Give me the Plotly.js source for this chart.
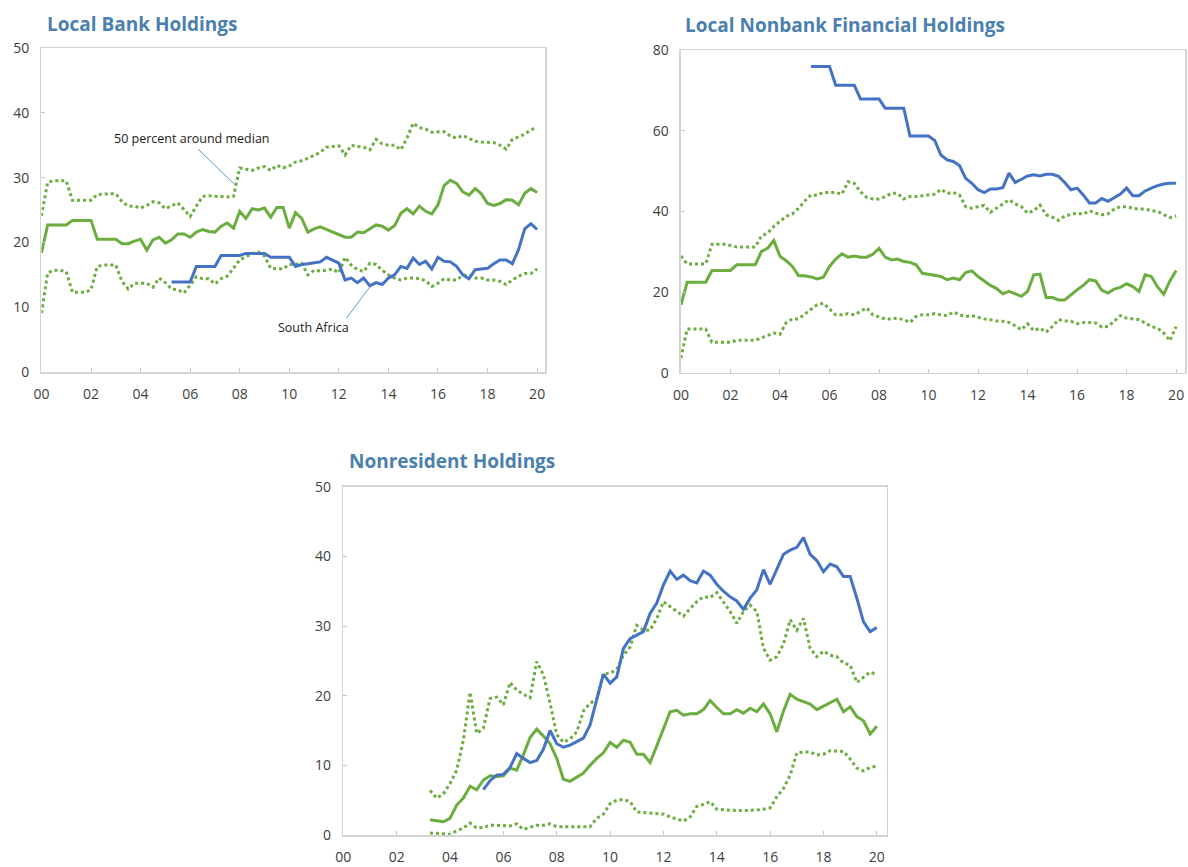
<!DOCTYPE html>
<html><head><meta charset="utf-8">
<script src="https://cdn.plot.ly/plotly-3.0.1.min.js"></script>
<style>html,body{margin:0;padding:0;background:#fff}#chart{width:1188px;height:867px}</style>
</head><body><div id="chart"></div>
<script>
// ---------- DATA (quarterly, years since 2000) ----------
const yearTicks = [0,2,4,6,8,10,12,14,16,18,20];
const yearLabels = ['00','02','04','06','08','10','12','14','16','18','20'];

// Panel 1: Local Bank Holdings (start 2000Q1)
const bank_start = 0;
const bank_median = [
 18.4,22.7,22.7,22.7, 22.7,23.4,23.4,23.4, 23.4,20.5,20.5,20.5, 20.5,19.8,19.8,20.2,
 20.5,18.8,20.4,20.8, 19.9,20.4,21.3,21.3, 20.8,21.6,22.0,21.7, 21.6,22.5,23.0,22.2,
 24.8,23.7,25.2,25.0, 25.3,23.9,25.4,25.4, 22.2,24.6,23.7,21.6, 22.1,22.4,22.0,21.6,
 21.1,20.8,20.8,21.6, 21.5,22.1,22.7,22.5, 21.9,22.6,24.5,25.2, 24.4,25.6,24.8,24.4,
 25.8,28.8,29.6,29.1, 27.8,27.3,28.3,27.5, 26.0,25.7,26.0,26.6, 26.5,25.8,27.6,28.3, 27.7];
const bank_upper = [
 24.1,29.3,29.5,29.5, 29.5,26.5,26.5,26.5, 26.5,27.4,27.5,27.5, 27.5,26.3,25.6,25.6,
 25.3,25.7,26.3,26.1, 25.2,25.6,26.1,25.1, 24.0,25.6,27.1,27.2, 27.1,27.1,27.0,27.1,
 31.5,31.3,31.1,31.5, 31.7,31.1,31.9,31.5, 31.8,32.4,32.6,33.0, 33.4,33.9,34.7,34.8,
 34.9,33.5,35.0,34.8, 34.7,34.3,35.9,35.2, 35.0,35.0,34.3,36.1, 38.4,37.7,37.5,37.0,
 37.1,37.1,36.4,36.1, 36.5,36.1,35.6,35.5, 35.5,35.4,35.0,34.4, 35.9,36.3,36.7,37.4, 37.7];
const bank_lower = [
 9.1,15.3,15.7,15.7, 15.5,12.3,12.3,12.3, 12.7,16.3,16.5,16.5, 16.5,14.0,12.8,13.7,
 13.7,13.7,13.1,14.5, 13.8,12.8,12.7,12.2, 13.4,14.7,14.4,14.4, 13.6,14.4,14.8,16.0,
 17.3,17.8,18.3,18.5, 17.9,16.0,16.0,15.9, 16.6,16.6,16.8,15.0, 15.7,15.6,15.7,15.9,
 15.3,17.7,16.5,15.8, 15.5,16.8,16.6,15.7, 15.0,14.5,14.2,14.5, 14.5,14.4,14.1,13.2,
 13.7,14.4,14.2,14.2, 14.9,15.0,14.5,14.5, 14.2,14.2,14.0,13.5, 14.2,14.8,15.2,15.2, 15.9];
const bank_sa_start = 5.25;
const bank_sa = [
 13.9,13.9,13.9, 13.9,16.3,16.3,16.3, 16.3,18.0,18.0,18.0, 18.0,18.3,18.3,18.3,
 18.3,17.7,17.7,17.7, 17.7,16.3,16.6,16.7, 16.8,17.0,17.7,17.3, 16.8,14.2,14.5,13.8,
 14.5,13.3,13.8,13.5, 14.5,15.0,16.3,16.0, 17.6,16.6,17.1,15.9, 17.7,17.1,17.0,16.3,
 15.0,14.4,15.8,15.9, 16.0,16.7,17.3,17.3, 16.7,18.9,22.1,22.9, 22.0];

// Panel 2: Local Nonbank Financial Holdings (start 2000Q1)
const nbfi_start = 0;
const nbfi_median = [
 16.9,22.5,22.5,22.5, 22.5,25.4,25.4,25.4, 25.4,26.8,26.8,26.8, 26.8,30.1,30.9,32.8,
 28.9,27.8,26.4,24.1, 24.1,23.8,23.3,23.7, 26.4,28.2,29.5,28.7, 29.0,28.7,28.7,29.4,
 30.9,28.7,28.0,28.2, 27.6,27.4,26.8,24.7, 24.5,24.2,23.9,23.1, 23.5,23.1,24.9,25.3,
 23.9,22.8,21.7,20.9, 19.6,20.2,19.6,19.0, 20.2,24.3,24.5,18.7, 18.7,18.1,18.1,19.4,
 20.6,21.7,23.1,22.8, 20.5,19.8,20.8,21.2, 22.1,21.4,20.2,24.3, 23.9,21.3,19.5,22.8, 25.4];
const nbfi_upper = [
 29.0,27.0,27.0,27.0, 27.0,31.9,31.9,31.9, 31.6,31.2,31.2,31.2, 31.2,34.0,34.6,36.3,
 37.5,38.8,39.4,40.8, 42.6,44.1,44.0,44.7, 44.7,44.7,44.3,47.4, 47.0,44.9,43.5,43.1,
 43.1,43.7,44.5,44.5, 43.1,43.7,43.7,43.9, 44.1,44.3,45.5,44.5, 44.7,44.1,41.2,40.8,
 41.2,41.5,39.8,40.8, 41.9,42.9,41.9,41.2, 39.6,40.2,41.6,39.2, 38.6,37.8,38.9,39.3,
 39.6,39.3,40.2,39.6, 39.2,39.4,40.6,41.2, 41.2,40.8,40.6,40.6, 40.2,40.0,39.2,38.5, 38.9];
const nbfi_lower = [
 3.7,10.9,10.9,10.9, 10.9,7.6,7.6,7.6, 7.6,8.1,8.1,8.1, 8.1,8.7,9.3,9.9,
 9.6,12.5,13.4,13.4, 14.6,15.8,16.9,17.3, 15.8,14.4,14.4,14.7, 14.4,15.3,16.1,14.4,
 13.9,13.4,13.4,13.6, 13.2,12.5,14.0,14.4, 14.4,14.7,14.4,14.2, 15.1,14.4,14.0,14.2,
 13.8,13.4,13.2,12.9, 12.8,12.5,11.7,10.7, 12.2,10.5,11.1,10.1, 11.5,13.2,12.9,12.8,
 12.2,12.5,12.5,12.4, 11.4,11.5,12.8,14.2, 13.6,13.4,13.2,12.4, 11.5,11.1,9.9,8.0, 11.5];
const nbfi_sa_start = 5.25;
const nbfi_sa = [
 75.9,75.9,75.9, 75.9,71.3,71.3,71.3, 71.3,67.9,67.9,67.9, 67.9,65.6,65.6,65.6,
 65.6,58.7,58.7,58.7, 58.7,57.6,54.0,52.8, 52.4,51.4,48.2,47.0, 45.4,44.7,45.6,45.6,
 45.9,49.5,47.2,48.0, 48.8,49.1,48.8,49.2, 49.2,48.7,47.2,45.4, 45.8,44.1,42.1,42.1,
 43.2,42.5,43.5,44.3, 45.8,43.9,43.9,45.1, 45.8,46.4,46.8,47.0, 47.0];

// Panel 3: Nonresident Holdings (start 2003Q2)
const nonres_start = 3.25;
const nonres_median = [
 2.2,2.1,1.9, 2.4,4.3,5.3,7.0, 6.5,7.9,8.5,8.4, 8.5,9.6,9.3,11.5,
 14.0,15.2,14.2,13.1, 11.0,8.0,7.7,8.3, 8.9,10.0,11.0,11.8, 13.3,12.6,13.6,13.3,
 11.6,11.6,10.4,12.8, 15.2,17.7,17.9,17.2, 17.4,17.4,18.0,19.3, 18.3,17.4,17.4,18.0,
 17.5,18.2,17.7,18.8, 17.4,14.8,17.8,20.2, 19.5,19.1,18.8,18.0, 18.5,18.9,19.5,17.7,
 18.4,17.0,16.4,14.5, 15.6];
const nonres_upper = [
 6.4,5.3,5.9, 7.4,9.3,13.6,20.5, 14.6,15.3,19.6,19.8, 18.7,21.9,20.8,20.2,
 19.7,24.9,23.0,18.9, 14.4,13.3,13.8,14.8, 17.8,18.9,19.5,23.2, 23.2,23.8,25.8,27.0,
 30.1,29.4,29.4,31.1, 33.5,32.8,32.1,31.4, 32.5,33.5,34.2,34.1, 34.8,33.5,32.1,30.4,
 32.1,33.0,32.1,26.8, 25.1,25.6,27.4,30.9, 29.4,31.1,26.8,25.6, 26.4,25.8,25.6,24.7,
 24.4,21.9,22.6,23.4, 23.0];
const nonres_lower = [
 0.3,0.2,0.1, 0.1,0.6,1.0,1.7, 1.0,1.1,1.4,1.4, 1.3,1.3,1.6,0.8,
 1.1,1.4,1.4,1.6, 1.2,1.2,1.1,1.1, 1.1,1.2,2.4,3.0, 4.5,5.0,5.1,4.8,
 3.3,3.2,3.1,3.1, 3.0,2.6,2.3,2.0, 2.6,4.1,4.4,4.8, 3.7,3.6,3.5,3.5,
 3.5,3.5,3.6,3.7, 3.9,5.5,6.7,8.6, 11.8,11.9,11.9,11.5, 11.6,12.1,12.1,12.0,
 10.9,9.6,9.2,9.7, 9.9];
const nonres_sa_start = 5.25;
const nonres_sa = [
 6.5,7.8,8.6, 8.7,9.7,11.7,11.0, 10.4,10.7,12.3,15.0, 13.1,12.6,12.9,13.4,
 13.9,15.8,19.5,23.1, 21.8,22.7,26.8,28.2, 28.7,29.2,31.8,33.3, 35.9,37.9,36.7,37.3,
 36.5,36.2,37.9,37.3, 36.0,35.0,34.2,33.6, 32.4,34.0,35.2,38.1, 36.0,38.1,40.3,40.9,
 41.3,42.7,40.3,39.4, 37.8,38.9,38.5,37.1, 37.1,34.0,30.6,29.2, 29.8];

const titles = ['Local Bank Holdings', 'Local Nonbank Financial Holdings', 'Nonresident Holdings'];
const noteBand = '50 percent around median';
const noteSA = 'South Africa';

// ---------- STYLE ----------
const GREEN = '#6BAE3F';
const BLUE = '#4472C4';
const FONT = '"Open Sans", "Noto Sans", sans-serif';

function qx(start, n) { const a = []; for (let i = 0; i < n; i++) a.push(start + i * 0.25); return a; }
function line(start, vals, color, dash, xa, ya) {
  return { x: qx(start, vals.length), y: vals, type: 'scatter', mode: 'lines', xaxis: xa, yaxis: ya,
    line: { color: color, width: 3, dash: dash }, hoverinfo: 'skip', showlegend: false };
}

const traces = [
  line(bank_start, bank_upper, GREEN, 'dot', 'x', 'y'),
  line(bank_start, bank_lower, GREEN, 'dot', 'x', 'y'),
  line(bank_start, bank_median, GREEN, 'solid', 'x', 'y'),
  line(bank_sa_start, bank_sa, BLUE, 'solid', 'x', 'y'),
  line(nbfi_start, nbfi_upper, GREEN, 'dot', 'x2', 'y2'),
  line(nbfi_start, nbfi_lower, GREEN, 'dot', 'x2', 'y2'),
  line(nbfi_start, nbfi_median, GREEN, 'solid', 'x2', 'y2'),
  line(nbfi_sa_start, nbfi_sa, BLUE, 'solid', 'x2', 'y2'),
  line(nonres_start, nonres_upper, GREEN, 'dot', 'x3', 'y3'),
  line(nonres_start, nonres_lower, GREEN, 'dot', 'x3', 'y3'),
  line(nonres_start, nonres_median, GREEN, 'solid', 'x3', 'y3'),
  line(nonres_sa_start, nonres_sa, BLUE, 'solid', 'x3', 'y3'),
];

const tickFont = { family: FONT, size: 14, color: '#404040' };
function xAxis(domain, anchor, rmax) {
  return { domain: domain, anchor: anchor, range: [0, rmax], tickvals: yearTicks, ticktext: yearLabels,
    showline: true, linecolor: '#d4d4d4', linewidth: 1.5, mirror: true, ticks: 'inside', ticklen: 4,
    tickcolor: '#c8c8c8', showgrid: false, zeroline: false, tickfont: tickFont, ticklabelstandoff: 9, fixedrange: true };
}
function yAxis(domain, anchor, rmax, dt) {
  return { domain: domain, anchor: anchor, range: [0, rmax], dtick: dt, tick0: 0,
    showline: true, linecolor: '#d4d4d4', linewidth: 1.5, mirror: true, ticks: 'inside', ticklen: 4,
    tickcolor: '#c8c8c8', showgrid: false, zeroline: false, tickfont: tickFont, ticklabelstandoff: 8, fixedrange: true };
}

const titleFont = { family: FONT, size: 19, color: '#4A7FB0', weight: 'bold' };
const noteFont = { family: FONT, size: 12.5, color: '#1a1a1a' };

const layout = {
  width: 1188, height: 867, margin: { l: 0, r: 0, t: 0, b: 0 },
  paper_bgcolor: '#fff', plot_bgcolor: '#fff', showlegend: false,
  xaxis: xAxis([0.0349, 0.4588], 'y', 20.32),
  yaxis: yAxis([0.5709, 0.9446], 'x', 50, 10),
  xaxis2: xAxis([0.5732, 0.9975], 'y2', 20.36),
  yaxis2: yAxis([0.5698, 0.9423], 'x2', 80, 20),
  xaxis3: xAxis([0.2890, 0.7464], 'y3', 20.37),
  yaxis3: yAxis([0.0369, 0.4386], 'x3', 50, 10),
  annotations: [
    { text: '<b>' + titles[0] + '</b>', xref: 'paper', yref: 'paper', x: 45 / 1188, y: 1 - 24 / 867, xanchor: 'left', yanchor: 'middle', showarrow: false, font: titleFont },
    { text: '<b>' + titles[1] + '</b>', xref: 'paper', yref: 'paper', x: 683 / 1188, y: 1 - 25 / 867, xanchor: 'left', yanchor: 'middle', showarrow: false, font: titleFont },
    { text: '<b>' + titles[2] + '</b>', xref: 'paper', yref: 'paper', x: 347 / 1188, y: 1 - 461 / 867, xanchor: 'left', yanchor: 'middle', showarrow: false, font: titleFont },
    { text: noteBand, xref: 'x', yref: 'y', x: 6.07, y: 36.1, showarrow: false, font: noteFont },
    { text: noteSA, xref: 'x', yref: 'y', x: 10.97, y: 6.8, showarrow: false, font: noteFont },
  ],
  shapes: [
    { type: 'line', xref: 'x', yref: 'y', x0: 6.32, y0: 34.4, x1: 7.81, y1: 28.9, line: { color: '#5B9BD5', width: 1 } },
    { type: 'line', xref: 'x', yref: 'y', x0: 12.31, y0: 8.3, x1: 13.28, y1: 13.3, line: { color: '#5B9BD5', width: 1 } },
  ],
};

Plotly.newPlot('chart', traces, layout, { displayModeBar: false, staticPlot: true });
</script></body></html>
